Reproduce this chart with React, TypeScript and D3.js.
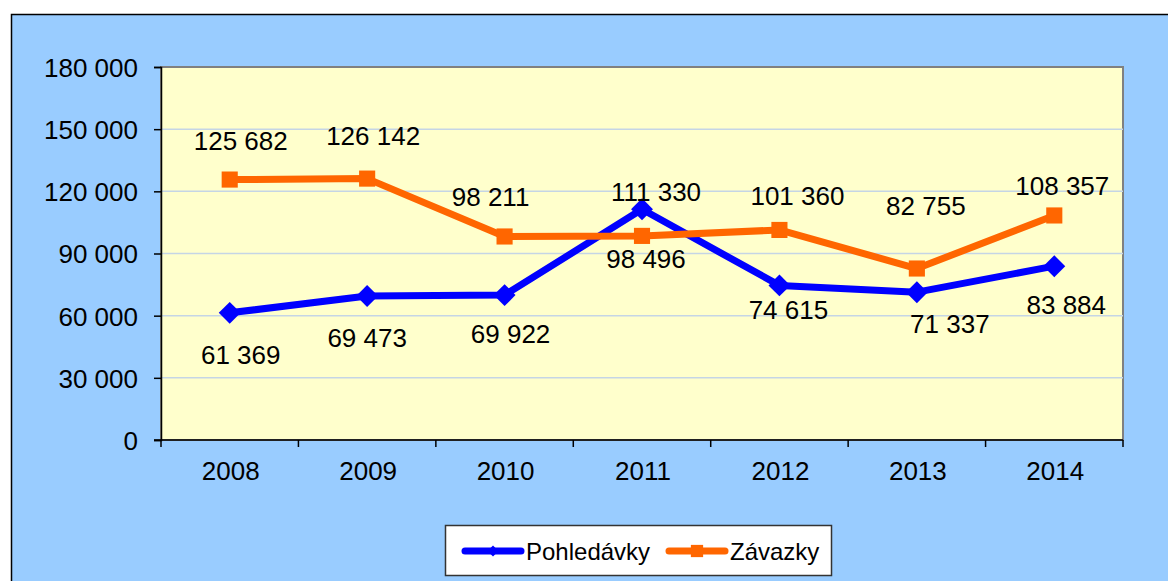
import React, { useEffect, useRef } from "react";
import * as d3 from "d3";

const years = ["2008", "2009", "2010", "2011", "2012", "2013", "2014"];
const pohledavky = [61369, 69473, 69922, 111330, 74615, 71337, 83884];
const zavazky = [125682, 126142, 98211, 98496, 101360, 82755, 108357];
const yTicks = [0, 30000, 60000, 90000, 120000, 150000, 180000];

// hand-placed data label offsets (dx, dy from the marker), like the original
const pohLabelOff = [[11, 42], [0, 42], [6, 39], [14, -18], [9, 24], [33, 31], [12, 38]];
const zavLabelOff = [[11, -39], [6, -43], [-14, -40], [4, 23], [18, -34], [9, -63], [8, -30]];

const fmt = (v: number) => d3.format(",")(v).replace(/,/g, " ");

export default function App() {
  const ref = useRef<SVGSVGElement>(null);

  useEffect(() => {
    const svg = d3.select(ref.current);
    svg.selectAll("*").remove();

    const font = "'Liberation Sans', Arial, sans-serif";
    const plot = { left: 161, right: 1123, top: 67, bottom: 440 };

    // outer chart background
    svg.append("rect")
      .attr("x", 11.5).attr("y", 14.5)
      .attr("width", 1200).attr("height", 600)
      .attr("fill", "#99CCFF")
      .attr("stroke", "#000").attr("stroke-width", 1.5);

    const x = d3.scaleBand().domain(years).range([plot.left, plot.right]);
    const y = d3.scaleLinear().domain([0, 180000]).range([plot.bottom, plot.top]);
    const cx = (d: string) => (x(d) as number) + x.bandwidth() / 2;

    // plot area
    svg.append("rect")
      .attr("x", plot.left).attr("y", plot.top)
      .attr("width", plot.right - plot.left).attr("height", plot.bottom - plot.top)
      .attr("fill", "#FFFFCC")
      .attr("stroke", "#808080").attr("stroke-width", 2);

    // grid
    svg.append("g")
      .selectAll("line")
      .data(yTicks.filter((t) => t > 0 && t < 180000))
      .enter().append("line")
      .attr("x1", plot.left).attr("x2", plot.right)
      .attr("y1", (d) => y(d)).attr("y2", (d) => y(d))
      .attr("stroke", "#C5D5E5").attr("stroke-width", 1.5);

    // y axis
    const yAxis = svg.append("g")
      .attr("transform", `translate(${plot.left},0)`)
      .call(d3.axisLeft(y).tickValues(yTicks).tickSize(7).tickPadding(16).tickFormat((d) => fmt(d as number)));
    yAxis.select(".domain").attr("stroke", "#000").attr("stroke-width", 1.5);
    yAxis.selectAll(".tick line").attr("stroke", "#000").attr("stroke-width", 1.5);
    yAxis.selectAll("text")
      .attr("font-family", font).attr("font-size", 26).attr("fill", "#000")
      .attr("dy", "0.36em");

    // x axis, ticks sit between categories
    const xAxis = svg.append("g").attr("transform", `translate(0,${plot.bottom})`);
    xAxis.append("line")
      .attr("x1", plot.left - 7).attr("x2", plot.right)
      .attr("stroke", "#000").attr("stroke-width", 1.5);
    xAxis.selectAll("line.tk")
      .data([...years.map((d) => x(d) as number), plot.right])
      .enter().append("line")
      .attr("class", "tk")
      .attr("x1", (d) => d).attr("x2", (d) => d)
      .attr("y1", 0).attr("y2", 7)
      .attr("stroke", "#000").attr("stroke-width", 1.5);
    xAxis.selectAll("text")
      .data(years)
      .enter().append("text")
      .attr("x", (d) => cx(d) + 1)
      .attr("y", 31)
      .attr("dy", "0.36em")
      .attr("text-anchor", "middle")
      .attr("font-family", font).attr("font-size", 26)
      .text((d) => d);

    const line = d3.line<number>()
      .x((_, i) => cx(years[i]))
      .y((d) => y(d));

    const series = [
      { values: pohledavky, color: "#0000FF", off: pohLabelOff, shape: "diamond" },
      { values: zavazky, color: "#FF6600", off: zavLabelOff, shape: "square" },
    ];

    series.forEach((s) => {
      svg.append("path")
        .datum(s.values)
        .attr("d", line)
        .attr("fill", "none")
        .attr("stroke", s.color)
        .attr("stroke-width", 7)
        .attr("stroke-linejoin", "round");

      const sym = s.shape === "diamond"
        ? d3.symbol().type(d3.symbolSquare).size(240)
        : d3.symbol().type(d3.symbolSquare).size(260);

      svg.append("g")
        .selectAll("path")
        .data(s.values)
        .enter().append("path")
        .attr("d", sym)
        .attr("transform", (d, i) =>
          `translate(${cx(years[i])},${y(d)})` + (s.shape === "diamond" ? " rotate(45)" : ""))
        .attr("fill", s.color);
    });

    series.forEach((s) => {
      svg.append("g")
        .selectAll("text")
        .data(s.values)
        .enter().append("text")
        .attr("x", (_, i) => cx(years[i]) + s.off[i][0])
        .attr("y", (d, i) => y(d) + s.off[i][1])
        .attr("dy", "0.36em")
        .attr("text-anchor", "middle")
        .attr("font-family", font).attr("font-size", 26)
        .attr("fill", "#000")
        .text((d) => fmt(d));
    });

    // legend
    const lg = svg.append("g");
    lg.append("rect")
      .attr("x", 445.5).attr("y", 525.5)
      .attr("width", 386).attr("height", 50)
      .attr("fill", "#fff").attr("stroke", "#333").attr("stroke-width", 1.5);
    const items = [
      { name: "Pohledávky", color: "#0000FF", shape: "diamond", x0: 465 },
      { name: "Závazky", color: "#FF6600", shape: "square", x0: 669 },
    ];
    items.forEach((it) => {
      lg.append("line")
        .attr("x1", it.x0).attr("x2", it.x0 + 56)
        .attr("y1", 551).attr("y2", 551)
        .attr("stroke", it.color).attr("stroke-width", 7)
        .attr("stroke-linecap", "round");
      lg.append("path")
        .attr("d", d3.symbol().type(d3.symbolSquare).size(it.shape === "diamond" ? 60 : 150))
        .attr("transform", `translate(${it.x0 + 28},551)` + (it.shape === "diamond" ? " rotate(45)" : ""))
        .attr("fill", it.color);
      lg.append("text")
        .attr("x", it.x0 + 61).attr("y", 551)
        .attr("dy", "0.36em")
        .attr("font-family", font).attr("font-size", 24)
        .text(it.name);
    });
  }, []);

  return (
    <svg
      ref={ref}
      width={1168}
      height={581}
      style={{ position: "absolute", left: 0, top: 0, background: "#fff" }}
    />
  );
}
